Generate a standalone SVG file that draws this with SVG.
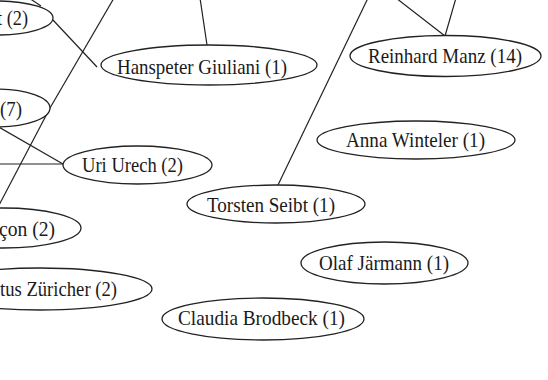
<svg xmlns="http://www.w3.org/2000/svg" width="548" height="380" viewBox="0 0 548 380">
<style>
.edge{stroke:#222;stroke-width:1.2;fill:none}
.node ellipse{fill:#fff;stroke:#222;stroke-width:1.3}
.node text{font-family:"Liberation Serif","Times New Roman",serif;font-size:21px;fill:#1a1a1a}
</style>
<rect width="548" height="380" fill="#fff"/>
<g id="connectors">
<line class="edge" x1="29" y1="-2" x2="41" y2="6"/>
<line class="edge" x1="53" y1="20" x2="97" y2="67"/>
<line class="edge" x1="114" y1="-2" x2="50" y2="108"/>
<line class="edge" x1="50" y1="108" x2="-3" y2="209"/>
<line class="edge" x1="-3" y1="126" x2="63" y2="164"/>
<line class="edge" x1="-3" y1="164" x2="63" y2="164"/>
<line class="edge" x1="200" y1="-2" x2="207" y2="45"/>
<line class="edge" x1="396" y1="-2" x2="445" y2="36"/>
<line class="edge" x1="456" y1="-2" x2="445" y2="36"/>
<line class="edge" x1="368" y1="-2" x2="278" y2="185"/>
</g>
<g id="node-t2" class="node">
<ellipse cx="-3" cy="18" rx="56" ry="17"/>
<text x="28" y="25" text-anchor="end" textLength="31" lengthAdjust="spacingAndGlyphs">t (2)</text>
</g>
<g id="node-7" class="node">
<ellipse cx="-3" cy="108" rx="53" ry="19"/>
<text x="22" y="116" text-anchor="end" textLength="22" lengthAdjust="spacingAndGlyphs">(7)</text>
</g>
<g id="node-hanspeter" class="node">
<ellipse cx="209" cy="65" rx="108" ry="20"/>
<text x="117" y="74" textLength="170" lengthAdjust="spacingAndGlyphs">Hanspeter Giuliani (1)</text>
</g>
<g id="node-reinhard" class="node">
<ellipse cx="445.5" cy="56" rx="95.5" ry="20.5"/>
<text x="368" y="63" textLength="154" lengthAdjust="spacingAndGlyphs">Reinhard Manz (14)</text>
</g>
<g id="node-anna" class="node">
<ellipse cx="416" cy="140" rx="99" ry="19"/>
<text x="346" y="147" textLength="139" lengthAdjust="spacingAndGlyphs">Anna Winteler (1)</text>
</g>
<g id="node-uri" class="node">
<ellipse cx="137.5" cy="165" rx="74.5" ry="19"/>
<text x="82" y="172" textLength="101" lengthAdjust="spacingAndGlyphs">Uri Urech (2)</text>
</g>
<g id="node-torsten" class="node">
<ellipse cx="276" cy="204" rx="89" ry="19"/>
<text x="207" y="212" textLength="128" lengthAdjust="spacingAndGlyphs">Torsten Seibt (1)</text>
</g>
<g id="node-con" class="node">
<ellipse cx="3" cy="228" rx="78" ry="20"/>
<text x="55" y="236" text-anchor="end" textLength="56" lengthAdjust="spacingAndGlyphs">çon (2)</text>
</g>
<g id="node-olaf" class="node">
<ellipse cx="384.5" cy="263" rx="83.5" ry="21"/>
<text x="319" y="270" textLength="130" lengthAdjust="spacingAndGlyphs">Olaf Järmann (1)</text>
</g>
<g id="node-zuericher" class="node">
<ellipse cx="40" cy="289" rx="112" ry="21"/>
<text x="117" y="296" text-anchor="end" textLength="117" lengthAdjust="spacingAndGlyphs">tus Züricher (2)</text>
</g>
<g id="node-claudia" class="node">
<ellipse cx="263" cy="319" rx="101" ry="21"/>
<text x="178" y="325" textLength="167" lengthAdjust="spacingAndGlyphs">Claudia Brodbeck (1)</text>
</g>
</svg>
